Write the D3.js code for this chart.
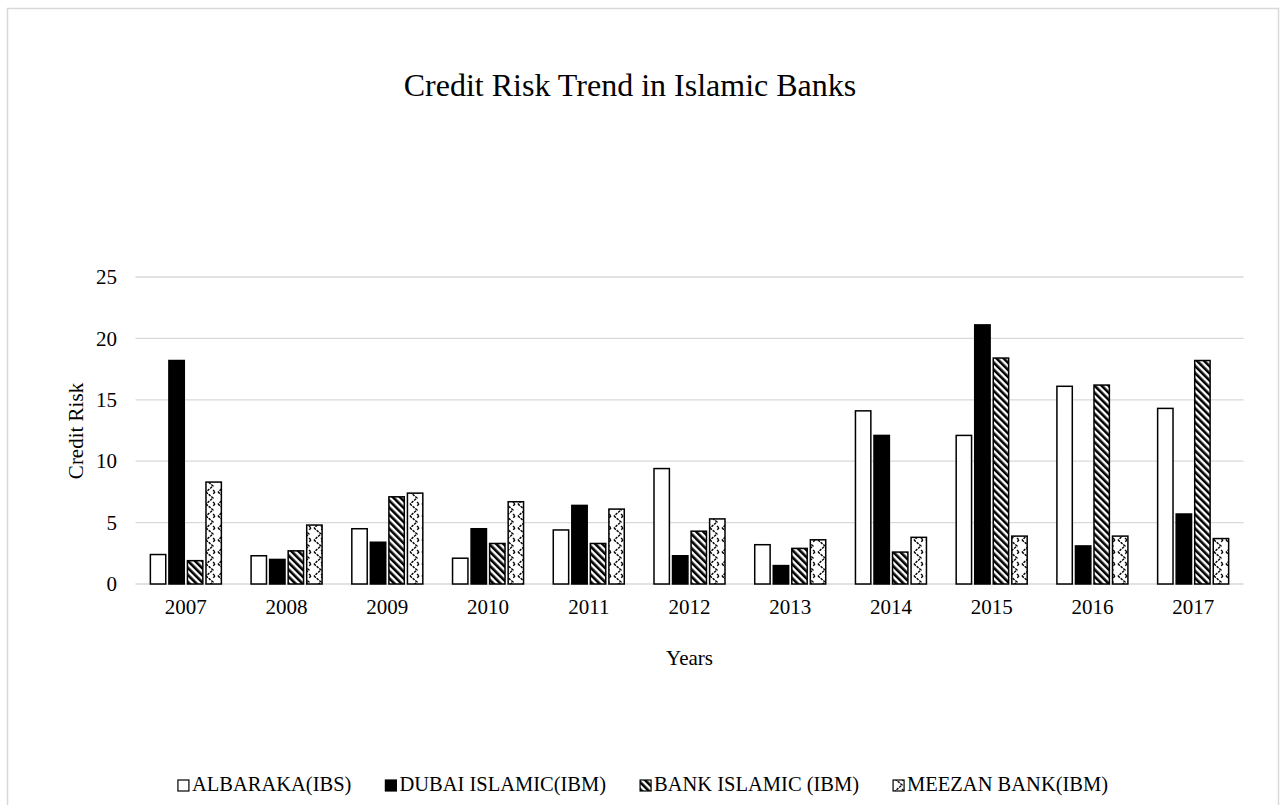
<!DOCTYPE html>
<html>
<head>
<meta charset="utf-8">
<script src="https://cdn.jsdelivr.net/npm/d3@7"></script>
<style>
  body { margin: 0; background: #fff; }
  svg { display: block; font-family: "Liberation Serif", "Times New Roman", serif; }
</style>
</head>
<body>
<svg id="chart" width="1284" height="805"></svg>
<script>
'use strict';

// Chart data
const years = ['2007', '2008', '2009', '2010', '2011', '2012', '2013', '2014', '2015', '2016', '2017'];
const seriesNames = ['ALBARAKA(IBS)', 'DUBAI ISLAMIC(IBM)', 'BANK ISLAMIC (IBM)', 'MEEZAN BANK(IBM)'];
const albaraka = [2.4, 2.3, 4.5, 2.1, 4.4, 9.4, 3.2, 14.1, 12.1, 16.1, 14.3];
const dubaiIslamic = [18.2, 2.0, 3.4, 4.5, 6.4, 2.3, 1.5, 12.1, 21.1, 3.1, 5.7];
const bankIslamic = [1.9, 2.7, 7.1, 3.3, 3.3, 4.3, 2.9, 2.6, 18.4, 16.2, 18.2];
const meezanBank = [8.3, 4.8, 7.4, 6.7, 6.1, 5.3, 3.6, 3.8, 3.9, 3.9, 3.7];
const yTicks = [0, 5, 10, 15, 20, 25];

const seriesValues = [albaraka, dubaiIslamic, bankIslamic, meezanBank];
const fills = ['#fff', '#000', 'url(#diag)', 'url(#zigzag)'];

const svg = d3.select('#chart');
const plotLeft = 135.5;
const plotRight = 1243.5;
const plotBottom = 584;
const bodyFont = 21;

// outer frame
svg.append('rect')
    .attr('x', 7.5).attr('y', 8.5)
    .attr('width', 1271).attr('height', 820)
    .attr('fill', '#fff').attr('stroke', '#d9d9d9').attr('stroke-width', 1.5);

// patterns
const defs = svg.append('defs');
const diag = defs.append('pattern')
    .attr('id', 'diag').attr('patternUnits', 'userSpaceOnUse')
    .attr('width', 5).attr('height', 5)
    .attr('patternTransform', 'rotate(-45)');
diag.append('rect').attr('width', 5).attr('height', 5).attr('fill', '#fff');
diag.append('rect').attr('x', 0).attr('width', 2.6).attr('height', 5).attr('fill', '#000');

const zig = defs.append('pattern')
    .attr('id', 'zigzag').attr('patternUnits', 'userSpaceOnUse')
    .attr('width', 12).attr('height', 12);
zig.append('rect').attr('width', 12).attr('height', 12).attr('fill', '#fff');
zig.append('path')
    .attr('d', 'M2,0 L9,6 L2,12 M11,0 L9,2 M9,10 L11,12')
    .attr('fill', 'none').attr('stroke', '#000').attr('stroke-width', 1.4)
    .attr('stroke-dasharray', '2.5,1');

const x = d3.scaleBand()
    .domain(years)
    .range([plotLeft, plotRight]);

const y = d3.scaleLinear()
    .domain([0, 25])
    .range([plotBottom, 277]);

// gridlines
svg.append('g')
    .selectAll('line')
    .data(yTicks)
    .join('line')
    .attr('x1', plotLeft).attr('x2', plotRight)
    .attr('y1', d => y(d)).attr('y2', d => y(d))
    .attr('stroke', '#d9d9d9').attr('stroke-width', 1.3);

// y axis labels
const yAxis = svg.append('g')
    .attr('transform', `translate(${plotLeft},0)`)
    .call(d3.axisLeft(y).tickValues(yTicks).tickSize(0).tickPadding(18.5));
yAxis.select('.domain').remove();
yAxis.selectAll('text')
    .attr('font-size', bodyFont).attr('fill', '#000')
    .attr('font-family', '"Liberation Serif", serif');

// x axis labels
const xAxis = svg.append('g')
    .attr('transform', `translate(0,${plotBottom})`)
    .call(d3.axisBottom(x).tickSize(0).tickPadding(15));
xAxis.select('.domain').remove();
xAxis.selectAll('text')
    .attr('font-size', bodyFont).attr('fill', '#000')
    .attr('font-family', '"Liberation Serif", serif');

// bars
const groupWidth = 71;
const inner = d3.scaleBand()
    .domain(d3.range(seriesNames.length))
    .range([0, groupWidth])
    .paddingInner(0.17);
const groupOffset = (x.bandwidth() - groupWidth) / 2;

seriesValues.forEach((vals, si) => {
    svg.append('g')
        .selectAll('rect')
        .data(vals)
        .join('rect')
        .attr('x', (d, i) => x(years[i]) + groupOffset + inner(si))
        .attr('y', d => y(d))
        .attr('width', inner.bandwidth())
        .attr('height', d => plotBottom - y(d))
        .attr('fill', fills[si])
        .attr('stroke', '#000')
        .attr('stroke-width', 1.5);
});

// title
svg.append('text')
    .attr('x', 630).attr('y', 96)
    .attr('text-anchor', 'middle')
    .attr('font-size', 32)
    .text('Credit Risk Trend in Islamic Banks');

// axis titles
svg.append('text')
    .attr('x', (plotLeft + plotRight) / 2).attr('y', 665)
    .attr('text-anchor', 'middle')
    .attr('font-size', bodyFont)
    .text('Years');

svg.append('text')
    .attr('transform', 'translate(83,431) rotate(-90)')
    .attr('text-anchor', 'middle')
    .attr('font-size', bodyFont)
    .text('Credit Risk');

// legend, laid out from measured text widths and centred in the chart
const legendFont = 20.5;
const legend = svg.append('g');
const items = seriesNames.map((name, i) => {
    const g = legend.append('g');
    g.append('rect')
        .attr('x', 0).attr('y', -11)
        .attr('width', 11).attr('height', 11)
        .attr('fill', fills[i])
        .attr('stroke', '#000').attr('stroke-width', 1.2);
    const t = g.append('text')
        .attr('x', 14).attr('y', 0)
        .attr('font-size', legendFont)
        .text(name);
    return { g, w: 14 + t.node().getComputedTextLength() };
});
const legendGap = 34;
const legendTotal = d3.sum(items, d => d.w) + legendGap * (items.length - 1);
let lx = 643 - legendTotal / 2;
items.forEach(it => {
    it.g.attr('transform', `translate(${lx},791)`);
    lx += it.w + legendGap;
});
</script>
</body>
</html>
